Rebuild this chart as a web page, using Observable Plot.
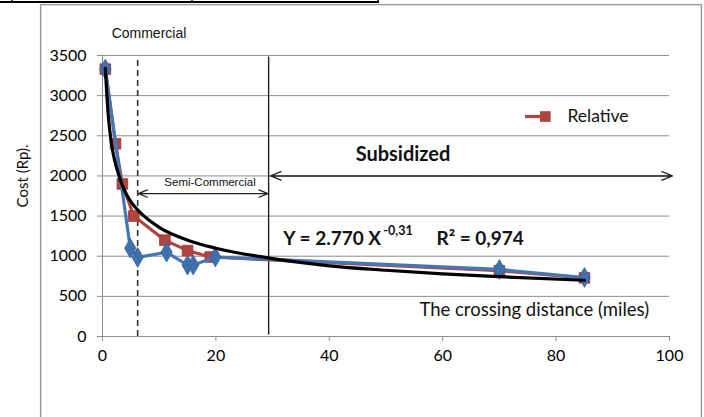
<!DOCTYPE html>
<html>
<head>
<meta charset="utf-8">
<script src="https://cdn.jsdelivr.net/npm/d3@7"></script>
<script src="https://cdn.jsdelivr.net/npm/@observablehq/plot@0.6"></script>
<style>
  html, body { margin: 0; padding: 0; background: #fff; }
  #wrap { position: relative; width: 704px; height: 417px; overflow: hidden; }
  #wrap svg { position: absolute; left: 0; top: 0; }
</style>
</head>
<body>
<div id="wrap"></div>
<script>
// ---- data ----
const relX = [0.5, 2.3, 3.5, 5.5, 11, 15, 19, 70, 85];
const relY = [3330, 2400, 1900, 1500, 1200, 1070, 990, 820, 730];

const blueX = [0.5, 4.9, 6.2, 11.3, 15, 16, 19.9, 70, 85];
const blueY = [3330, 1100, 985, 1050, 890, 890, 990, 835, 735];

// fitted trend curve
const fitX = [0.5, 1, 1.5, 2, 3, 4, 5, 7, 10, 15, 20, 30, 40, 50, 60, 70, 85];
const fitY = [3340, 2770, 2440, 2240, 1980, 1800, 1680, 1520, 1360, 1200, 1100, 970, 880, 825, 780, 745, 700];

const xTicks = [0, 20, 40, 60, 80, 100];
const yTicks = [0, 500, 1000, 1500, 2000, 2500, 3000, 3500];

const zoneBounds = [6.2, 29.3];        // dashed, solid vertical boundaries
const semiArrowY = [1780];
const subsArrowY = [2000];
const subsArrowEnd = [100.5];

const labelCommercial = "Commercial";
const labelSemi = "Semi-Commercial";
const labelSubs = "Subsidized";
const legendName = "Relative";
const eqMain = "Y = 2.770 X";
const eqExp = "-0,31";
const eqR2 = "R² = 0,974";
const xTitle = "The crossing distance (miles)";
const yTitle = "Cost (Rp).";

const rel = relX.map((x, i) => ({x, y: relY[i]}));
const blue = blueX.map((x, i) => ({x, y: blueY[i]}));
const fit = fitX.map((x, i) => ({x, y: fitY[i]}));

const RED = "#B2443F";
const BLUE = "#4677B5";
const FONT = "Lato, 'Open Sans', sans-serif";
const ARIAL = "'Liberation Sans', Arial, sans-serif";

const mid1 = (zoneBounds[0] + zoneBounds[1]) / 2;
const mid2 = (zoneBounds[1] + subsArrowEnd[0]) / 2;

const chart = Plot.plot({
  width: 704,
  height: 417,
  marginLeft: 102,
  marginRight: 35,
  marginTop: 55,
  marginBottom: 81,
  style: {fontFamily: FONT, fontSize: "16px", color: "#000", background: "transparent", overflow: "visible"},
  x: {domain: [0, 100], ticks: xTicks, label: null},
  y: {domain: [0, 3500], ticks: yTicks, label: null},
  marks: [
    Plot.gridY(yTicks, {stroke: "#8c8c8c", strokeOpacity: 1, strokeWidth: 1}),
    Plot.ruleX([0], {stroke: "#8c8c8c"}),
    Plot.ruleY([0], {stroke: "#8c8c8c"}),
    Plot.axisX({ticks: xTicks, tickSize: 5, tickPadding: 8, stroke: "#8c8c8c", fontSize: 16, tickFormat: d3.format("d"), label: null}),
    Plot.axisY({ticks: yTicks, tickSize: 5, tickPadding: 11, stroke: "#8c8c8c", fontSize: 16, tickFormat: d3.format("d"), label: null}),
    // zone boundaries
    Plot.ruleX([zoneBounds[0]], {y1: 0, y2: 3480, stroke: "#333", strokeWidth: 1.6, strokeDasharray: "6,4"}),
    Plot.ruleX([zoneBounds[1]], {y1: 20, y2: 3480, stroke: "#222", strokeWidth: 1.4}),
    // double-headed arrows
    Plot.arrow(semiArrowY, {x1: mid1, x2: zoneBounds[0] + 0.15, y1: d => d, y2: d => d, stroke: "#222", strokeWidth: 1.2, headLength: 12, headAngle: 45}),
    Plot.arrow(semiArrowY, {x1: mid1, x2: zoneBounds[1] - 0.15, y1: d => d, y2: d => d, stroke: "#222", strokeWidth: 1.2, headLength: 12, headAngle: 45}),
    Plot.arrow(subsArrowY, {x1: mid2, x2: zoneBounds[1] + 0.35, y1: d => d, y2: d => d, stroke: "#222", strokeWidth: 1.4, headLength: 12, headAngle: 45}),
    Plot.arrow(subsArrowY, {x1: mid2, x2: subsArrowEnd[0], y1: d => d, y2: d => d, stroke: "#222", strokeWidth: 1.4, headLength: 12, headAngle: 45}),
    // series
    Plot.line(rel, {x: "x", y: "y", stroke: RED, strokeWidth: 3.2}),
    Plot.dot(rel, {x: "x", y: "y", symbol: "square", r: 6, fill: RED, stroke: "#9a3a36", strokeWidth: 0.8}),
    Plot.line(blue, {x: "x", y: "y", stroke: BLUE, strokeWidth: 3.2}),
    Plot.dot(blue, {x: "x", y: "y", symbol: "diamond", r: 6, fill: "#3f70ac", stroke: "#3a679f", strokeWidth: 0.8}),
    Plot.line(fit, {x: "x", y: "y", stroke: "#000", strokeWidth: 3.2, curve: "monotone-x"}),
    // legend
    Plot.ruleY([2740], {x1: 74.6, x2: 78.1, stroke: RED, strokeWidth: 3.2}),
    Plot.dot([{x: 78.1, y: 2740}], {x: "x", y: "y", symbol: "square", r: 6, fill: RED}),
    Plot.text([legendName], {x: 82.0, y: 2740, textAnchor: "start", fontSize: 17.5, fontFamily: FONT, fill: "#111"}),
    // annotations
    Plot.text([labelCommercial], {x: 8.2, y: 3770, fontSize: 14, fontFamily: ARIAL, fill: "#111", clip: false}),
    Plot.text([labelSemi], {x: 18.96, y: 1925, fontSize: 11.5, fontFamily: ARIAL, fill: "#111"}),
    Plot.text([labelSubs], {x: 53.0, y: 2270, fontSize: 20, fontWeight: "bold", fontFamily: FONT, fill: "#111"}),
    Plot.text([eqMain], {x: 31.9, y: 1220, textAnchor: "start", fontSize: 19, fontWeight: "bold", fontFamily: FONT, fill: "#111"}),
    Plot.text([eqR2], {x: 58.9, y: 1220, textAnchor: "start", fontSize: 19, fontWeight: "bold", fontFamily: FONT, fill: "#111"}),
    Plot.text([xTitle], {x: 96.4, y: 325, textAnchor: "end", fontSize: 18.5, fontFamily: FONT, fill: "#111"})
  ]
});

document.getElementById("wrap").appendChild(chart);
const svg = d3.select(chart);

// superscript exponent placed right after the "Y = 2.770 X" text
svg.selectAll("text").filter(function() { return this.textContent === eqMain; }).each(function() {
  const bb = this.getBBox();
  const tr = this.getAttribute("transform");
  const nt = d3.select(this.parentNode).append("text")
    .attr("x", (+this.getAttribute("x") || 0) + bb.x + bb.width + 2 - (+this.getAttribute("x") || 0))
    .attr("y", bb.y + 9)
    .attr("font-size", 12.5)
    .attr("font-weight", "bold")
    .attr("font-family", FONT)
    .attr("text-anchor", "start")
    .attr("fill", "#111")
    .text(eqExp);
  if (tr) nt.attr("transform", tr);
});

// y title
svg.append("text")
  .attr("transform", "translate(24,176) rotate(-90)")
  .attr("text-anchor", "middle")
  .attr("dominant-baseline", "middle")
  .attr("font-family", FONT)
  .attr("font-size", 15)
  .attr("fill", "#111")
  .text(yTitle);

// chart frame and the table edge above it
const deco = svg.insert("g", ":first-child");
deco.append("rect").attr("x", 40.5).attr("y", 4.5).attr("width", 661).attr("height", 420)
  .attr("fill", "none").attr("stroke", "#9a9a9a").attr("stroke-width", 1.2);
deco.append("rect").attr("x", 41.5).attr("y", 5.5).attr("width", 659).attr("height", 420)
  .attr("fill", "none").attr("stroke", "#dcdcdc").attr("stroke-width", 1);
deco.append("line").attr("x1", 0).attr("x2", 379).attr("y1", 2).attr("y2", 2).attr("stroke", "#000").attr("stroke-width", 2);
[12, 192, 378].forEach(x => deco.append("line").attr("x1", x).attr("x2", x).attr("y1", 0).attr("y2", 3).attr("stroke", "#000").attr("stroke-width", 1.5));
</script>
</body>
</html>
